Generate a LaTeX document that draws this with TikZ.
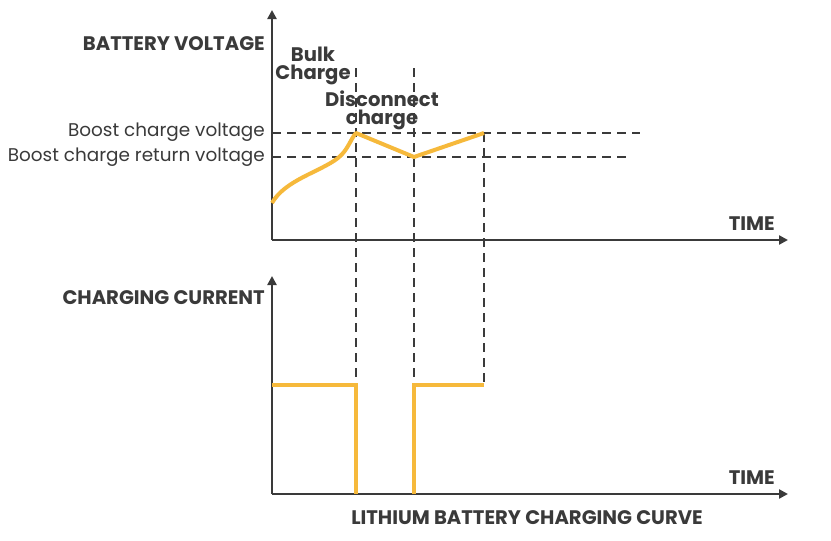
\documentclass[tikz,border=0pt]{standalone}
\usepackage{fontspec}
\setmainfont{Poppins}
\usetikzlibrary{arrows.meta}
\definecolor{txt}{HTML}{3A3A3A}
\definecolor{org}{HTML}{F6B93B}
\begin{document}
\begin{tikzpicture}[x=1pt,y=-1pt,
  ax/.style={draw=txt,line width=2.6pt,-{Triangle[length=9pt,width=9pt]}},
  dsh/.style={draw=txt,line width=1.8pt,dash pattern=on 9pt off 6pt},
  cur/.style={draw=org,line width=4pt},
  lb/.style={text=txt,font=\bfseries\fontsize{19.6}{18}\selectfont,inner sep=0pt},
  ln/.style={text=txt,font=\fontsize{18.4}{18}\selectfont,inner sep=0pt}]
\useasboundingbox[fill=white] (0,0) rectangle (831,541);
\coordinate (o1) at (272,240); \coordinate (t1) at (272,10); \coordinate (r1) at (788,240);
\coordinate (o2) at (272,494); \coordinate (t2) at (272,276); \coordinate (r2) at (788,494);
\draw[ax] (o1) -- (t1); \draw[ax] (o1) -- (r1);
\draw[ax] (o2) -- (t2); \draw[ax] (o2) -- (r2);
\node[lb,anchor=east] (bv) at (265,44) {BATTERY VOLTAGE};
\node[lb,anchor=east] (cc) at (265,298) {CHARGING CURRENT};
\node[lb,anchor=east] (ti1) at (775,224) {TIME};
\node[lb,anchor=east] (ti2) at (775,478) {TIME};
\node[lb] (title) at (527,518) {LITHIUM BATTERY CHARGING CURVE};
\node[lb,align=center,font=\bfseries\fontsize{19.6}{18}\selectfont] (bulk) at (313,66) {Bulk\\Charge};
\node[lb,align=center,font=\bfseries\fontsize{19.6}{18}\selectfont] (disc) at (382,110) {Disconnect\\charge};
\node[ln,anchor=east] (bcv) at (265,132) {Boost charge voltage};
\node[ln,anchor=east] (bcr) at (265,157) {Boost charge return voltage};
\coordinate (h1a) at (272,133); \coordinate (h1b) at (640,133);
\coordinate (h2a) at (272,157); \coordinate (h2b) at (630,157);
\draw[dsh] (h1a) -- (h1b); \draw[dsh] (h2a) -- (h2b);
\coordinate (v1a) at (356,68); \coordinate (v1b) at (356,494);
\coordinate (v2a) at (414,68); \coordinate (v2b) at (414,494);
\coordinate (v3a) at (484,133); \coordinate (v3b) at (484,385);
\draw[dsh] (v1a) -- (v1b); \draw[dsh] (v2a) -- (v2b); \draw[dsh] (v3a) -- (v3b);
\coordinate (c0) at (272,203); \coordinate (c1) at (356,133);
\coordinate (c2) at (414,157); \coordinate (c3) at (484,133);
\draw[cur,line join=round] (c0) .. controls (285,180) and (320,172) .. (338,158) .. controls (348,150) and (350,140) .. (c1) -- (c2) -- (c3);
\coordinate (i0) at (272,385); \coordinate (i1) at (356,385); \coordinate (i2) at (356,494);
\coordinate (j0) at (414,494); \coordinate (j1) at (414,385); \coordinate (j2) at (484,385);
\draw[cur] (i0) -- (i1) -- (i2);
\draw[cur] (j0) -- (j1) -- (j2);
\end{tikzpicture}
\end{document}
